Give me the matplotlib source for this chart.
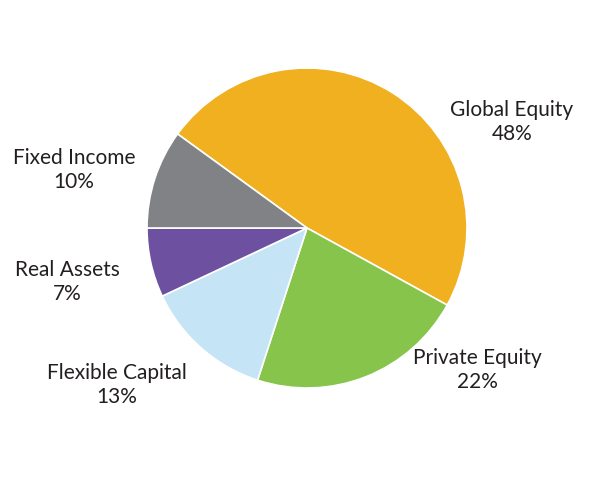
import matplotlib
matplotlib.use("Agg")
import matplotlib.pyplot as plt

categories = ["Global Equity", "Private Equity", "Flexible Capital", "Real Assets", "Fixed Income"]
values = [48, 22, 13, 7, 10]
colors = ["#F0B01F", "#86C44B", "#C5E4F5", "#6E50A1", "#818285"]
label_pos = [(512, 122), (477, 370), (117, 385), (67, 282), (74, 170)]

plt.rcParams['font.family'] = ['Lato', 'DejaVu Sans']
fig = plt.figure(figsize=(6, 5), dpi=100)
ax = fig.add_axes([(307-160)/600, (500-228-160)/500, 320/600, 320/500])
ax.pie(values, colors=colors, startangle=144, counterclock=False,
       wedgeprops=dict(edgecolor="white", linewidth=1.2))
ax.set_xlim(-1, 1)
ax.set_ylim(-1, 1)
ax.set_aspect('equal')
for c, v, (x, y) in zip(categories, values, label_pos):
    fig.text(x/600, 1-y/500, f"{c}\n{v}%", ha="center", va="center",
             fontsize=15, color="#231F20", linespacing=1.3)
fig.savefig("out.png", dpi=100)
